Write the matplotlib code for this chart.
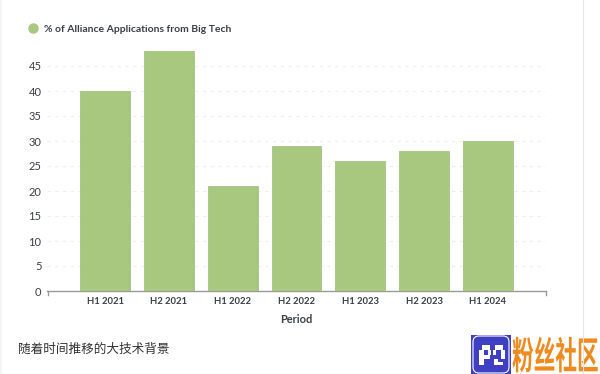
import matplotlib
matplotlib.use("Agg")
import matplotlib.pyplot as plt
from matplotlib.patches import FancyBboxPatch, Rectangle
from matplotlib.patheffects import AbstractPathEffect
from matplotlib.transforms import Affine2D

periods = ["H1 2021", "H2 2021", "H1 2022", "H2 2022", "H1 2023", "H2 2023", "H1 2024"]
big_tech_pct = [40, 48, 21, 29, 26, 28, 30]
y_ticks = [0, 5, 10, 15, 20, 25, 30, 35, 40, 45]
legend_label = "% of Alliance Applications from Big Tech"
x_title = "Period"
caption = "随着时间推移的大技术背景"
watermark = "粉丝社区"

W, H = 600, 374
GREEN = "#a8c880"
TEXT = "#3a3f47"

plt.rcParams["font.family"] = ["Lato", "Noto Sans CJK SC", "DejaVu Sans"]


class TallText(AbstractPathEffect):
    # the watermark glyphs are narrow and tall in the reference
    def __init__(self, factor):
        super().__init__()
        self.factor = factor

    def draw_path(self, renderer, gc, tpath, affine, rgbFace=None):
        renderer.draw_path(gc, tpath, Affine2D().scale(1, self.factor) + affine, rgbFace)


fig = plt.figure(figsize=(W / 100, H / 100), dpi=100, facecolor="white")

# axes box in pixels: x 47-546, y 50-291
ax = fig.add_axes([47 / W, 1 - 291 / H, 499 / W, 241 / H])
ax.bar(range(len(periods)), big_tech_pct, width=0.78, color=GREEN,
       edgecolor="#9dbd78", linewidth=0.5, zorder=3)
ax.set_xlim(-0.909, 6.909)
ax.set_ylim(0, 48.2)
ax.set_yticks(y_ticks)
ax.set_xticks(range(len(periods)))
ax.set_xticklabels(periods, fontsize=6.8, fontweight="bold", color=TEXT)
ax.tick_params(axis="x", length=0, pad=4)
ax.tick_params(axis="y", length=0, pad=4, labelsize=8, labelcolor=TEXT)
for y in y_ticks[1:]:
    ax.axhline(y, color="#eeeeee", linewidth=0.8, linestyle=(0, (3, 4)), zorder=1)
for s in ["top", "right", "left"]:
    ax.spines[s].set_visible(False)
ax.spines["bottom"].set_color("#9a9a9a")
ax.spines["bottom"].set_linewidth(1)
ax.set_xlabel(x_title, fontsize=7.9, fontweight="bold", color=TEXT, labelpad=6)

# small end ticks on the x axis
fig.add_artist(plt.Line2D([47.5 / W, 47.5 / W], [1 - 295 / H, 1 - 291 / H], color="#9a9a9a", lw=1))
fig.add_artist(plt.Line2D([546 / W, 546 / W], [1 - 295 / H, 1 - 291 / H], color="#9a9a9a", lw=1))

# legend
fig.add_artist(plt.Line2D([33 / W], [1 - 28 / H], marker="o", markersize=6.5, color=GREEN, linestyle="none"))
fig.text(44 / W, 1 - 29 / H, legend_label, fontsize=7.5, color=TEXT, va="center", fontweight="bold")

fig.text(18 / W, 1 - 349 / H, caption, fontsize=9.1, color="#333333", va="center")

# page edges
fig.add_artist(plt.Line2D([582.5 / W, 582.5 / W], [0, 1], color="#e6e6e6", lw=0.8))
fig.add_artist(Rectangle((0, 0), 2 / W, 1, transform=fig.transFigure, color="#f4f4f4", lw=0))

# watermark logo
logo = fig.add_axes([0, 0, 1, 1], facecolor="none")
logo.set_xlim(0, W)
logo.set_ylim(H, 0)
logo.axis("off")
logo.add_patch(Rectangle((471, 335), 40, 39, color="#3f3fc4", lw=0))
logo.add_patch(FancyBboxPatch((473, 336), 36, 37, boxstyle="round,pad=0,rounding_size=6",
                              fill=False, edgecolor="white", linewidth=0.8))
for x0, y0, w, h in [(482, 345, 8, 5), (479, 350, 5, 5), (479, 355, 5, 10), (484, 355, 6, 4),
                     (488, 350, 3, 5), (495, 345, 8, 5), (493, 350, 3, 5), (501, 350, 4, 9),
                     (494, 359, 4, 6), (498, 362, 5, 3)]:
    logo.add_patch(Rectangle((x0, y0), w, h, color="white", lw=0))
logo.text(512, 369, watermark, fontsize=15.6, color="#ee8a1e", fontweight="bold", va="baseline",
          family=["Noto Sans CJK SC", "DejaVu Sans"], path_effects=[TallText(1.75)])

fig.savefig("out.png", dpi=100)
